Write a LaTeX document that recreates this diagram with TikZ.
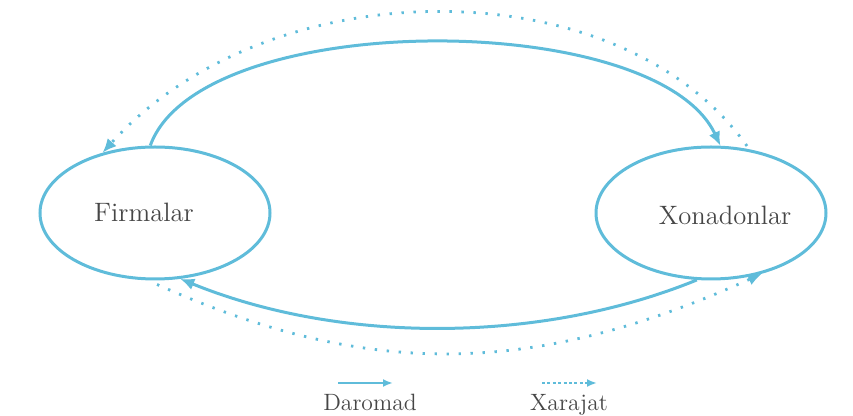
\documentclass[tikz,border=0pt]{standalone}
\usetikzlibrary{arrows.meta,shapes.geometric}
\definecolor{flowblue}{RGB}{95,188,218}
\definecolor{inkgray}{RGB}{70,70,70}
\tikzset{
  sector/.style={ellipse,draw=flowblue,line width=1.5pt,minimum width=115pt,minimum height=66pt,inner sep=0pt},
  income/.style={draw=flowblue,line width=1.5pt,-{Latex[length=7pt,width=6pt]}},
  spending/.style={draw=flowblue,line width=1.4pt,dash pattern=on 1.2pt off 4.8pt,-{Latex[length=7pt,width=6pt]}},
  sectortext/.style={text=inkgray,inner sep=0pt,anchor=base,font=\fontsize{13.3}{16}\selectfont},
  keytext/.style={text=inkgray,inner sep=0pt,anchor=base,font=\fontsize{11.8}{14}\selectfont}
}

\begin{document}
\begin{tikzpicture}[x=0.5pt,y=-0.5pt]
  \useasboundingbox (0,0) rectangle (853,416);
  \node[sector] (firms) at (155,213) {};
  \node[sector] (homes) at (711,213) {};
  \node[sectortext] (firmstext) at (144,222) {Firmalar};
  \node[sectortext] (homestext) at (725,225) {Xonadonlar};
  \draw[income] (firms.94) .. controls (200,8) and (656,8) .. (homes.82);
  \draw[spending,shorten <=2pt] (homes.59) .. controls (620,-33) and (270,-33) .. (firms.131);
  \draw[income] (homes.258) .. controls (540,344) and (340,344) .. (firms.-69);
  \draw[spending,shorten <=5pt] (firms.-96) .. controls (366,378) and (531,378) .. (homes.-50);
  \node[keytext] (income key) at (370,411) {Daromad};
  \node[keytext] (spending key) at (569,411) {Xarajat};
  \coordinate (d1) at (338,383);
  \coordinate (d2) at (393,383);
  \coordinate (x1) at (542,383);
  \coordinate (x2) at (597,383);
  \draw[income,line width=1pt,-{Latex[length=5pt,width=4pt]}] (d1) -- (d2);
  \draw[spending,line width=1pt,dash pattern=on 1.5pt off 1.2pt,-{Latex[length=5pt,width=4pt]}] (x1) -- (x2);
\end{tikzpicture}
\end{document}
